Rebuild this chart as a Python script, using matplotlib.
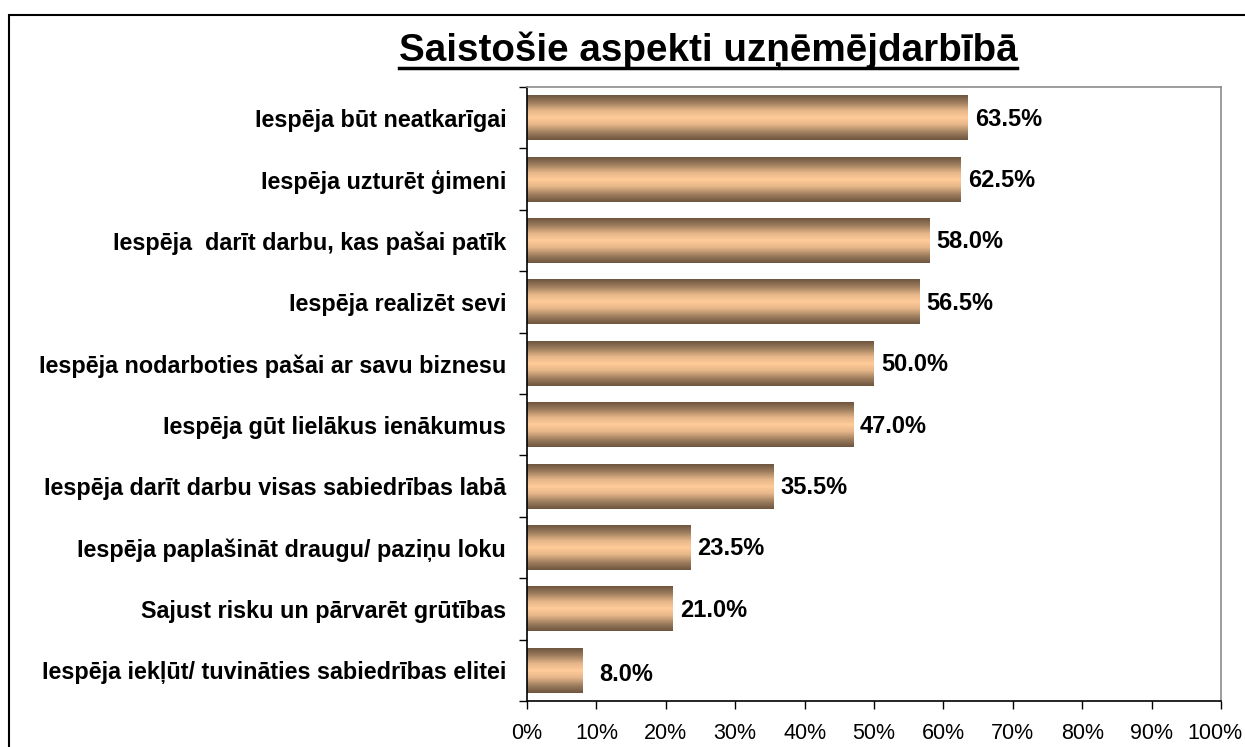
import numpy as np
import matplotlib
matplotlib.use("Agg")
import matplotlib.pyplot as plt
import matplotlib.transforms as mtransforms
from matplotlib.patches import Rectangle
from matplotlib.lines import Line2D
from matplotlib.colors import LinearSegmentedColormap

categories = [
    "Iespēja būt neatkarīgai",
    "Iespēja uzturēt ģimeni",
    "Iespēja  darīt darbu, kas pašai patīk",
    "Iespēja realizēt sevi",
    "Iespēja nodarboties pašai ar savu biznesu",
    "Iespēja gūt lielākus ienākumus",
    "Iespēja darīt darbu visas sabiedrības labā",
    "Iespēja paplašināt draugu/ paziņu loku",
    "Sajust risku un pārvarēt grūtības",
    "Iespēja iekļūt/ tuvināties sabiedrības elitei",
]
values = [63.5, 62.5, 58.0, 56.5, 50.0, 47.0, 35.5, 23.5, 21.0, 8.0]
value_labels = ["63.5%", "62.5%", "58.0%", "56.5%", "50.0%", "47.0%", "35.5%", "23.5%", "21.0%", "8.0%"]
xticks = [0, 10, 20, 30, 40, 50, 60, 70, 80, 90, 100]
xtick_labels = ["0%", "10%", "20%", "30%", "40%", "50%", "60%", "70%", "80%", "90%", "100%"]
title = "Saistošie aspekti uzņēmējdarbībā"

plt.rcParams['font.family'] = ['Liberation Sans', 'DejaVu Sans']

W, H = 1245, 747
fig = plt.figure(figsize=(W / 100, H / 100), dpi=100)
fig.patch.set_facecolor("white")

# outer border (extends past right/bottom edges)
fig.patches.append(Rectangle((9 / W, -0.05), 1.2, 1 - 15 / H + 0.05, transform=fig.transFigure,
                             fill=False, edgecolor="black", linewidth=1.5, clip_on=False))

ax = fig.add_axes([527 / W, 1 - 701 / H, (1221 - 527) / W, (701 - 87) / H])

y = np.arange(len(categories))
bar_h = 0.73
bars = ax.barh(y, values, height=bar_h, color="none", edgecolor="none", zorder=2)

cmap = LinearSegmentedColormap.from_list(
    "tan", [(0.0, "#6f5640"), (0.15, "#9a7b5c"), (0.35, "#e8b88a"), (0.5, "#ffcc99"),
            (0.65, "#e8b88a"), (0.85, "#9a7b5c"), (1.0, "#6f5640")])
grad = np.linspace(0, 1, 64).reshape(-1, 1)
for b in bars:
    x0, yb = b.get_x(), b.get_y()
    w, h = b.get_width(), b.get_height()
    ax.imshow(grad, cmap=cmap, aspect="auto", extent=[x0, x0 + w, yb + h, yb],
              interpolation="bilinear", zorder=2)

for i, (v, lab) in enumerate(zip(values, value_labels)):
    off = 12 if v < 10 else 5
    ax.annotate(lab, xy=(v, i), xytext=(off, -1 if v >= 10 else -3), textcoords="offset points",
                ha="left", va="center", fontsize=17, fontweight="bold", color="black")

ax.set_xlim(0, 100)
ax.set_ylim(len(categories) - 0.5, -0.5)
ax.set_xticks(xticks)
ax.set_xticklabels(xtick_labels, fontsize=15.5)
ax.set_yticks(np.arange(len(categories) + 1) - 0.5)
ax.set_yticklabels([])
ax.set_yticks(y, minor=True)
ax.set_yticklabels(categories, minor=True, fontsize=16.8, fontweight="bold")
ax.tick_params(axis="y", which="minor", length=0, pad=15)
ax.tick_params(axis="y", which="major", length=6, width=1, direction="out", color="black")
ax.tick_params(axis="x", length=6, width=1, direction="out", pad=10, color="black")

# keep the last tick label inside the picture
last = ax.get_xticklabels()[-1]
last.set_transform(last.get_transform() + mtransforms.ScaledTranslation(-6 / 100, 0, fig.dpi_scale_trans))

for s in ["left", "bottom"]:
    ax.spines[s].set_color("black")
    ax.spines[s].set_linewidth(1.2)
for s in ["top", "right"]:
    ax.spines[s].set_color("#8c8c8c")
    ax.spines[s].set_linewidth(1.2)

t = fig.text(708 / W, 1 - 62 / H, title, ha="center", va="baseline",
             fontsize=27.8, fontweight="bold")
fig.canvas.draw()
bb = t.get_window_extent(renderer=fig.canvas.get_renderer())
fig.lines.append(Line2D([bb.x0 / W, bb.x1 / W], [1 - 68 / H, 1 - 68 / H],
                        transform=fig.transFigure, color="black", linewidth=2.5))

fig.savefig("out.png", dpi=100)
